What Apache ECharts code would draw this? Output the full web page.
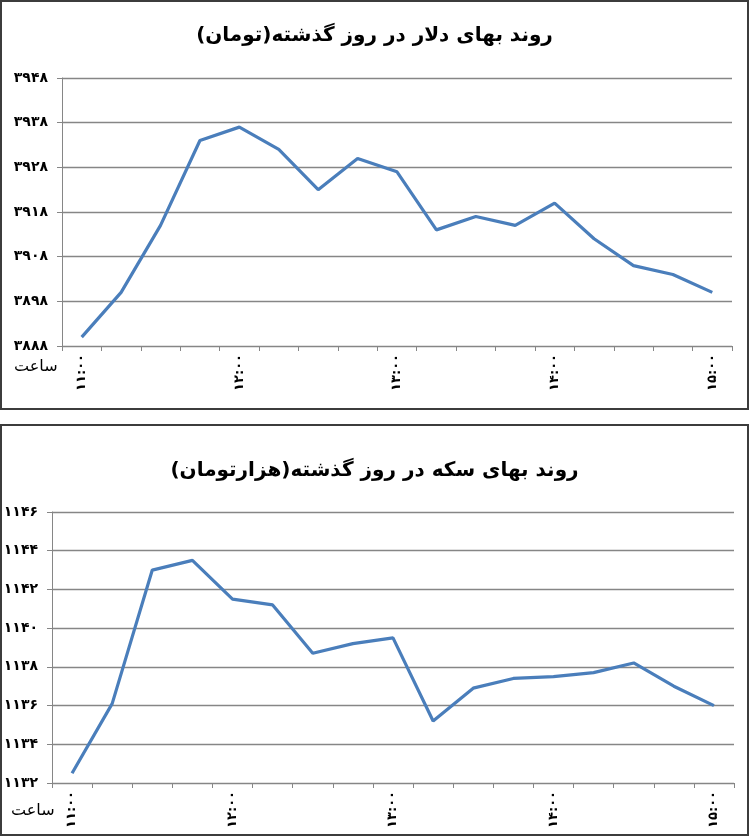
<!DOCTYPE html>
<html>
<head>
<meta charset="utf-8">
<script src="https://cdn.jsdelivr.net/npm/echarts@6/dist/echarts.min.js"></script>
<style>
    html, body { margin: 0; padding: 0; background: #fff; }
    .box { position: absolute; left: 0; width: 749px; box-sizing: border-box; border: 2px solid #3c3c3c; background: #fff; }
    #top { top: 0; height: 410px; }
    #bottom { top: 424px; height: 412px; }
</style>
</head>
<body>
<div id="top" class="box"></div>
<div id="bottom" class="box"></div>
<script>
    // 15 minute steps, 11:00 to 15:00
    const times = ['11:00', '11:15', '11:30', '11:45', '12:00', '12:15', '12:30', '12:45', '13:00',
        '13:15', '13:30', '13:45', '14:00', '14:15', '14:30', '14:45', '15:00'];
    const dollarValues = [3890, 3900, 3915, 3934, 3937, 3932, 3923, 3930, 3927, 3914, 3917, 3915, 3920, 3912, 3906, 3904, 3900];
    const coinValues = [1132.5, 1136.1, 1143.0, 1143.5, 1141.5, 1141.2, 1138.7, 1139.2, 1139.5, 1135.2, 1136.9, 1137.4, 1137.5, 1137.7, 1138.2, 1137.0, 1136.0];
    const dollarTitle = 'روند بهای دلار در روز گذشته(تومان)';
    const coinTitle = 'روند بهای سکه در روز گذشته(هزارتومان)';
    const xName = 'ساعت';

    const RLM = '\u200F';
    const faDigits = '۰۱۲۳۴۵۶۷۸۹';
    function toFa(s) {
        return String(s).replace(/[0-9]/g, d => faDigits[+d]);
    }

    function makeOption(cfg) {
        return {
            animation: false,
            title: {
                text: RLM + cfg.title + RLM,
                left: 'center',
                top: cfg.titleTop,
                textStyle: { fontFamily: 'DejaVu Sans', fontWeight: 'bold', fontSize: 20, color: '#000' }
            },
            grid: Object.assign({ outerBoundsMode: 'none', containLabel: false }, cfg.grid),
            graphic: [{
                type: 'text',
                left: cfg.namePos[0],
                top: cfg.namePos[1],
                style: { text: RLM + xName, font: '16px "DejaVu Sans"', fill: '#000' }
            }],
            xAxis: {
                type: 'category',
                data: times,
                boundaryGap: true,
                axisLine: { lineStyle: { color: '#868686', width: 1 } },
                axisTick: { show: true, interval: 0, length: 5, lineStyle: { color: '#868686' } },
                axisLabel: {
                    interval: 3,
                    rotate: 90,
                    margin: 8,
                    fontFamily: 'DejaVu Sans',
                    fontWeight: 'bold',
                    fontSize: 13,
                    color: '#000',
                    formatter: v => toFa(v)
                }
            },
            yAxis: {
                type: 'value',
                min: cfg.min,
                max: cfg.max,
                interval: cfg.step,
                axisLine: { show: true, lineStyle: { color: '#868686', width: 1 } },
                axisTick: { show: true, length: 5, lineStyle: { color: '#868686' } },
                splitLine: { lineStyle: { color: '#868686', width: 1.3 } },
                axisLabel: {
                    margin: cfg.labelMargin,
                    fontFamily: 'DejaVu Sans',
                    fontWeight: 'bold',
                    fontSize: 14,
                    color: '#000',
                    formatter: v => toFa(v)
                }
            },
            series: [{
                type: 'line',
                data: cfg.values,
                showSymbol: false,
                symbol: 'none',
                lineStyle: { color: '#4a7ebb', width: 3.2 }
            }]
        };
    }

    const topChart = echarts.init(document.getElementById('top'));
    topChart.setOption(makeOption({
        title: dollarTitle,
        titleTop: 19,
        grid: { left: 60, right: 15, top: 76, height: 268 },
        min: 3888, max: 3948, step: 10,
        labelMargin: 14,
        namePos: [12, 357],
        values: dollarValues
    }));

    const bottomChart = echarts.init(document.getElementById('bottom'));
    bottomChart.setOption(makeOption({
        title: coinTitle,
        titleTop: 30,
        grid: { left: 50, right: 13, top: 86, height: 271 },
        min: 1132, max: 1146, step: 2,
        labelMargin: 14,
        namePos: [9, 377],
        values: coinValues
    }));
</script>
</body>
</html>
